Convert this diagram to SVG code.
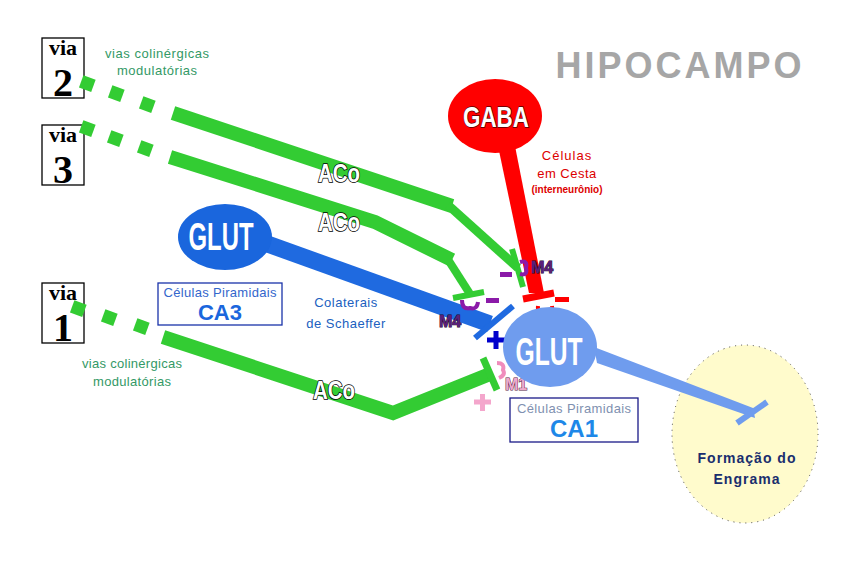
<svg xmlns="http://www.w3.org/2000/svg" width="861" height="578" viewBox="0 0 861 578">
<style>
.via{font-family:"Liberation Serif",serif;font-weight:bold;fill:#000}
.box{fill:#fff;stroke:#000;stroke-width:1.3}
.green{fill:none;stroke:#33cc33;stroke-linejoin:miter;stroke-linecap:butt}
.dot{fill:#33cc33}
.note{font-family:"Liberation Sans",sans-serif;font-size:13px;fill:#339966;text-anchor:middle}
.aco{font-family:"Liberation Sans",sans-serif;font-weight:bold;font-size:25px;fill:#fff;stroke:#000;stroke-width:1.6;paint-order:stroke;text-anchor:middle}
.glut{font-family:"Liberation Sans",sans-serif;font-weight:bold;fill:#fff;text-anchor:middle}
.lbl{font-family:"Liberation Sans",sans-serif;text-anchor:middle}
.mlbl{font-family:"Liberation Sans",sans-serif;font-weight:bold;font-size:16px;stroke-width:1;paint-order:stroke}
.cup{fill:none;stroke-width:4;stroke-linecap:butt}
</style>

<rect width="861" height="578" fill="#fff"/>

<text x="680" y="78" class="lbl" style="font-size:36px;font-weight:bold;fill:#a6a6a6;letter-spacing:3px">HIPOCAMPO</text>

<g id="via2">
  <rect class="box" x="42" y="38" width="42" height="60"/>
  <text x="63" y="55" class="via" font-size="22" text-anchor="middle">via</text>
  <text x="63" y="96" class="via" font-size="40" text-anchor="middle">2</text>
</g>
<g id="via3">
  <rect class="box" x="42" y="125" width="42" height="60"/>
  <text x="63" y="142" class="via" font-size="22" text-anchor="middle">via</text>
  <text x="63" y="183" class="via" font-size="40" text-anchor="middle">3</text>
</g>
<g id="via1">
  <rect class="box" x="42" y="283" width="42" height="60"/>
  <text x="63" y="300" class="via" font-size="22" text-anchor="middle">via</text>
  <text x="63" y="341" class="via" font-size="40" text-anchor="middle">1</text>
</g>

<g id="engrama">
  <ellipse cx="745" cy="434" rx="73" ry="89" fill="#fffbcc" stroke="#444" stroke-width="1" stroke-dasharray="1 5"/>
  <text x="747" y="463" class="lbl" style="font-size:14px;font-weight:bold;fill:#1a2e6e;letter-spacing:1px">Formação do</text>
  <text x="747" y="484" class="lbl" style="font-size:14px;font-weight:bold;fill:#1a2e6e;letter-spacing:1px">Engrama</text>
</g>

<g id="connectors">
  <g id="via2-path">
    <rect class="dot" x="81" y="77" width="13" height="13" transform="rotate(20 87 83)"/>
    <rect class="dot" x="110" y="87" width="13" height="13" transform="rotate(20 116 93)"/>
    <rect class="dot" x="141" y="98" width="13" height="13" transform="rotate(20 147 104)"/>
    <polyline class="green" stroke-width="14" points="173,113 452,206"/>
    <polyline class="green" stroke-width="9" points="448,205 518,268"/>
    <line x1="512" y1="249" x2="523" y2="287" stroke="#33cc33" stroke-width="6"/>
  </g>
  <g id="via3-path">
    <rect class="dot" x="81" y="122" width="13" height="13" transform="rotate(20 87 128)"/>
    <rect class="dot" x="109" y="132" width="13" height="13" transform="rotate(20 115 138)"/>
    <rect class="dot" x="139" y="142" width="13" height="13" transform="rotate(20 145 148)"/>
    <polyline class="green" stroke-width="14" points="170,157 375,222 452,260"/>
    <polyline class="green" stroke-width="8" points="447,258 470,294"/>
    <line x1="453" y1="298" x2="484" y2="292" stroke="#33cc33" stroke-width="6"/>
  </g>
  <g id="via1-path">
    <rect class="dot" x="72" y="302" width="13" height="13" transform="rotate(20 78 308)"/>
    <rect class="dot" x="103" y="311" width="13" height="13" transform="rotate(20 109 317)"/>
    <rect class="dot" x="135" y="320" width="13" height="13" transform="rotate(20 141 326)"/>
    <polyline class="green" stroke-width="14" points="163,337 393,413 490,374"/>
    <line x1="483" y1="358" x2="497" y2="390" stroke="#33cc33" stroke-width="7"/>
  </g>
  <g id="schaeffer">
    <line x1="262" y1="242" x2="490" y2="324" stroke="#1f6ae0" stroke-width="17"/>
    <line x1="475" y1="338" x2="513" y2="306" stroke="#1f6ae0" stroke-width="6"/>
  </g>
  <g id="gaba-path">
    <polygon points="498,146 515,146 544,293 529,293" fill="#ff0000"/>
    <line x1="523" y1="299" x2="554" y2="293" stroke="#ff0000" stroke-width="7"/>
  </g>
  <g id="ca1-out">
    <polygon points="594,347 597,363 755,418 753,408" fill="#6f9cee"/>
    <line x1="737" y1="423" x2="767" y2="402" stroke="#6f9cee" stroke-width="6"/>
  </g>
</g>

<g id="receptors">
  <path class="cup" stroke="#8b1aa8" d="M520,262 Q528,260 526,268 Q528,276 520,274"/>
  <path class="cup" stroke="#8b1aa8" d="M462,300 Q462,310 470,308 Q477,310 478,302"/>
  <path class="cup" stroke="#ff0000" d="M538,306 Q537,314 545,311 Q553,314 552,306"/>
  <path class="cup" stroke="#f08cbc" d="M497,363 Q505,363 503,370 Q506,375 499,378"/>
  <rect x="500" y="272" width="12" height="5" fill="#8b1aa8"/>
  <rect x="486" y="298" width="13" height="5" fill="#8b1aa8"/>
  <rect x="555" y="297" width="14" height="5" fill="#ff0000"/>
  <path d="M487,340 h18 M496,331 v18" stroke="#0000cc" stroke-width="5"/>
  <path d="M474,402 h17 M482.5,394 v17" stroke="#f4a6cc" stroke-width="5"/>
  <text x="531" y="273" class="mlbl" style="fill:#5a1f7a;stroke:#1a0a2a">M4</text>
  <text x="439" y="327" class="mlbl" style="fill:#5a1f7a;stroke:#1a0a2a">M4</text>
  <text x="505" y="390" class="mlbl" style="fill:#eeaacc;stroke:#552244">M1</text>
</g>

<g id="note-top">
  <text x="157" y="58" class="note" textLength="104">vias colinérgicas</text>
  <text x="157" y="75" class="note" textLength="80">modulatórias</text>
</g>
<g id="note-bottom">
  <text x="132" y="368" class="note" textLength="100">vias colinérgicas</text>
  <text x="132" y="386" class="note" textLength="78">modulatórias</text>
</g>

<g id="aco-labels">
  <text x="339" y="182" class="aco" textLength="42" lengthAdjust="spacingAndGlyphs">ACo</text>
  <text x="339" y="231" class="aco" textLength="42" lengthAdjust="spacingAndGlyphs">ACo</text>
  <text x="334" y="399" class="aco" textLength="42" lengthAdjust="spacingAndGlyphs">ACo</text>
</g>

<g id="gaba">
  <ellipse cx="495" cy="116" rx="47" ry="37" fill="#ff0000"/>
  <text x="496" y="127" class="glut" style="font-size:30px;stroke:#550000;stroke-width:1.5;paint-order:stroke" textLength="66" lengthAdjust="spacingAndGlyphs">GABA</text>
  <text x="567" y="160" class="lbl" style="font-size:13px;fill:#dd0000;letter-spacing:1px">Células</text>
  <text x="567" y="178" class="lbl" style="font-size:13px;fill:#dd0000;letter-spacing:0.5px">em Cesta</text>
  <text x="567" y="193" class="lbl" style="font-size:10px;font-weight:bold;fill:#dd0000">(interneurônio)</text>
</g>

<g id="glut-ca3">
  <ellipse cx="225" cy="237" rx="47" ry="33" fill="#1a66dd"/>
  <text x="221" y="250" class="glut" style="font-size:38px" textLength="65" lengthAdjust="spacingAndGlyphs">GLUT</text>
  <rect x="158" y="283" width="124" height="42" fill="#fff" stroke="#1a33aa" stroke-width="1.3"/>
  <text x="220" y="297" class="lbl" style="font-size:13px;fill:#3366cc" textLength="113">Células Piramidais</text>
  <text x="220" y="320" class="lbl" style="font-size:22px;font-weight:bold;fill:#1a66dd">CA3</text>
</g>

<g id="schaeffer-label">
  <text x="346" y="307" class="lbl" style="font-size:13px;fill:#2060c0;letter-spacing:0.5px">Colaterais</text>
  <text x="346" y="328" class="lbl" style="font-size:13px;fill:#2060c0;letter-spacing:0.5px">de Schaeffer</text>
</g>

<g id="glut-ca1">
  <ellipse cx="550" cy="347" rx="47" ry="40" fill="#6f9cee"/>
  <text x="549" y="365" class="glut" style="font-size:38px" textLength="67" lengthAdjust="spacingAndGlyphs">GLUT</text>
  <rect x="510" y="398" width="128" height="44" fill="#fff" stroke="#1a1a88" stroke-width="1.3"/>
  <text x="574" y="413" class="lbl" style="font-size:13px;fill:#8090b0" textLength="114">Células Piramidais</text>
  <text x="574" y="437" class="lbl" style="font-size:24px;font-weight:bold;fill:#1e88e8">CA1</text>
</g>
</svg>
